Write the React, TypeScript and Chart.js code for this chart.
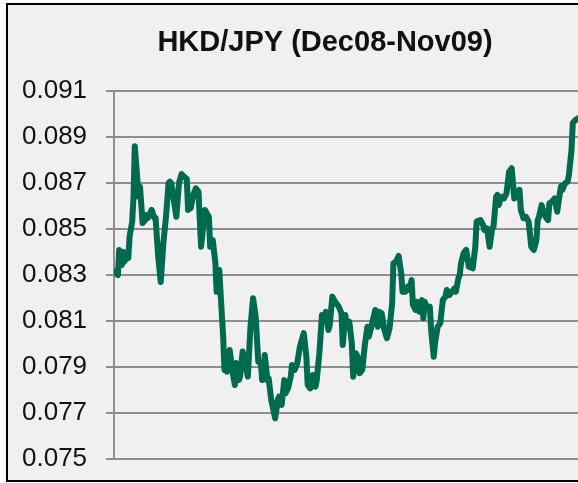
import React, { useEffect, useRef } from "react";
import { Chart, registerables } from "chart.js";

Chart.register(...registerables);

const TITLE = "HKD/JPY (Dec08-Nov09)";
const yTicks = [0.075, 0.077, 0.079, 0.081, 0.083, 0.085, 0.087, 0.089, 0.091];

// day offsets (from start of Dec 2008) and HKD/JPY rates
const days = [
  0, 3, 4, 6, 7, 8, 10, 11, 12, 14, 15, 16, 17, 19, 20, 22, 24, 25, 26, 29,
  31, 32, 34, 36, 38, 40, 42, 43, 44, 46, 48, 50, 52, 54, 56, 57, 59, 61, 63, 65,
  67, 70, 73, 74, 76, 78, 79, 81, 82, 84, 85, 87, 89, 91, 93, 94, 96, 97, 99, 101,
  103, 105, 107, 109, 111, 113, 114, 116, 118, 119, 121, 124, 126, 127, 129, 131, 132, 134, 136, 137,
  139, 141, 143, 146, 148, 149, 151, 153, 155, 156, 158, 160, 161, 163, 165, 166, 168, 170, 173, 175,
  176, 178, 179, 181, 183, 184, 186, 188, 189, 191, 193, 195, 196, 198, 201, 203, 204, 206, 208, 210,
  212, 214, 215, 217, 219, 221, 222, 224, 226, 227, 229, 230, 232, 233, 235, 237, 238, 239, 241, 243,
  244, 246, 247, 249, 251, 253, 255, 256, 258, 260, 262, 263, 265, 266, 267, 269, 271, 273, 276, 278,
  279, 282, 284, 285, 287, 289, 291, 292, 294, 295, 296, 298, 300, 302, 304, 306, 307, 308, 310, 312,
  313, 315, 317, 319, 320, 321, 323, 325, 326, 327, 329, 330, 332, 334, 335, 337, 339, 341, 343, 344,
  345, 347, 349, 350, 352, 353, 355, 357,
];

const rates = [
  0.08314, 0.083, 0.08409, 0.08343, 0.08401, 0.08358, 0.0838, 0.08374, 0.08467, 0.08532,
  0.0864, 0.0886, 0.08787, 0.0864, 0.08684, 0.08526, 0.08539, 0.08561, 0.08548, 0.08583,
  0.08548, 0.08548, 0.0838, 0.0827, 0.08439, 0.08553, 0.087, 0.08706, 0.087, 0.08626,
  0.08553, 0.087, 0.08739, 0.08727, 0.08717, 0.08583, 0.08591, 0.08648, 0.08677, 0.08662,
  0.08423, 0.08583, 0.08552, 0.08423, 0.08452, 0.08352, 0.08227, 0.08322, 0.0822, 0.08032,
  0.07887, 0.0788, 0.07974, 0.07887, 0.07822, 0.07917, 0.07843, 0.07858, 0.07967, 0.07916,
  0.07858, 0.08075, 0.08199, 0.08119, 0.07923, 0.07916, 0.07843, 0.07952, 0.07843, 0.07851,
  0.07757, 0.07677, 0.07757, 0.07771, 0.07735, 0.07843, 0.07786, 0.07809, 0.07858, 0.07909,
  0.07887, 0.07916, 0.07988, 0.08047, 0.07945, 0.07822, 0.07807, 0.07865, 0.07814, 0.07843,
  0.0796, 0.08126, 0.08104, 0.0814, 0.08061, 0.08083, 0.08206, 0.08184, 0.08162, 0.08133,
  0.07996, 0.08126, 0.08075, 0.08097, 0.08003, 0.07858, 0.0796, 0.07938, 0.07873, 0.07887,
  0.07996, 0.08075, 0.08032, 0.08075, 0.08148, 0.08075, 0.0814, 0.08133, 0.08061, 0.08025,
  0.08068, 0.08177, 0.08351, 0.08358, 0.08383, 0.08307, 0.08227, 0.08227, 0.08249, 0.08235,
  0.08278, 0.0817, 0.08148, 0.08184, 0.0814, 0.08191, 0.08112, 0.08184, 0.08155, 0.08162,
  0.08061, 0.07945, 0.08003, 0.08075, 0.0809, 0.08191, 0.08206, 0.08235, 0.08213, 0.08227,
  0.08242, 0.08227, 0.08286, 0.083, 0.08351, 0.08394, 0.08409, 0.08336, 0.08329, 0.08423,
  0.08532, 0.08539, 0.08517, 0.08496, 0.08503, 0.08423, 0.08503, 0.0851, 0.0864, 0.08648,
  0.08604, 0.0864, 0.08633, 0.08655, 0.08749, 0.08764, 0.08699, 0.08633, 0.08655, 0.0867,
  0.08583, 0.08547, 0.08553, 0.08532, 0.08481, 0.08423, 0.08409, 0.08452, 0.08539, 0.08553,
  0.08604, 0.08583, 0.08553, 0.08539, 0.08612, 0.08619, 0.08633, 0.08575, 0.08655, 0.08687,
  0.0867, 0.08699, 0.08706, 0.08735, 0.08843, 0.0896, 0.08974, 0.08981,
];

const titlePlugin = {
  id: "offsetTitle",
  afterDraw(chart: any) {
    const ctx = chart.ctx;
    ctx.save();
    ctx.font = "bold 29px 'Liberation Sans', Arial, sans-serif";
    ctx.fillStyle = "#111111";
    ctx.textAlign = "center";
    ctx.textBaseline = "alphabetic";
    ctx.fillText(TITLE, 325, 51);
    ctx.restore();
  },
};

export default function App() {
  const ref = useRef<HTMLCanvasElement | null>(null);

  useEffect(() => {
    if (!ref.current) return;
    const points = days.map((d, i) => ({ x: d, y: rates[i] }));
    const chart = new Chart(ref.current, {
      type: "line",
      data: {
        datasets: [
          {
            data: points,
            borderColor: "#006a4e",
            borderWidth: 6,
            pointRadius: 0,
            tension: 0,
            borderJoinStyle: "round",
            borderCapStyle: "round",
            fill: false,
          },
        ],
      },
      options: {
        responsive: false,
        animation: false,
        layout: { padding: { top: 91, bottom: 24, left: 22, right: 0 } },
        plugins: {
          legend: { display: false },
          title: { display: false },
          tooltip: { enabled: false },
        },
        scales: {
          x: {
            type: "linear",
            display: false,
            min: days[0],
            max: days[days.length - 1],
          },
          y: {
            min: yTicks[0],
            max: yTicks[yTicks.length - 1],
            afterBuildTicks: (scale: any) => {
              scale.ticks = yTicks.map((v) => ({ value: v }));
            },
            afterFit: (scale: any) => {
              scale.width = 92;
            },
            grid: {
              color: "#8e8e8e",
              lineWidth: 2,
              drawTicks: true,
              tickLength: 8,
            },
            border: { display: true, color: "#8e8e8e", width: 2 },
            ticks: {
              padding: 0,
              crossAlign: "far",
              color: "#111111",
              font: { family: "'Liberation Sans', Arial, sans-serif", size: 26 },
              callback: (v: any) => Number(v).toFixed(3),
            },
          },
        },
      },
      plugins: [titlePlugin],
    });
    return () => chart.destroy();
  }, []);

  return (
    <div
      style={{
        position: "fixed",
        left: 0,
        top: 0,
        width: 578,
        height: 483,
        background: "#ffffff",
        overflow: "hidden",
      }}
    >
      <div
        style={{
          position: "absolute",
          left: 6,
          top: 3,
          width: 640,
          height: 475,
          border: "2px solid #000000",
          background: "#eff0ef",
        }}
      />
      <canvas
        ref={ref}
        width={578}
        height={483}
        style={{ position: "absolute", left: 0, top: 0, width: 578, height: 483 }}
      />
    </div>
  );
}
